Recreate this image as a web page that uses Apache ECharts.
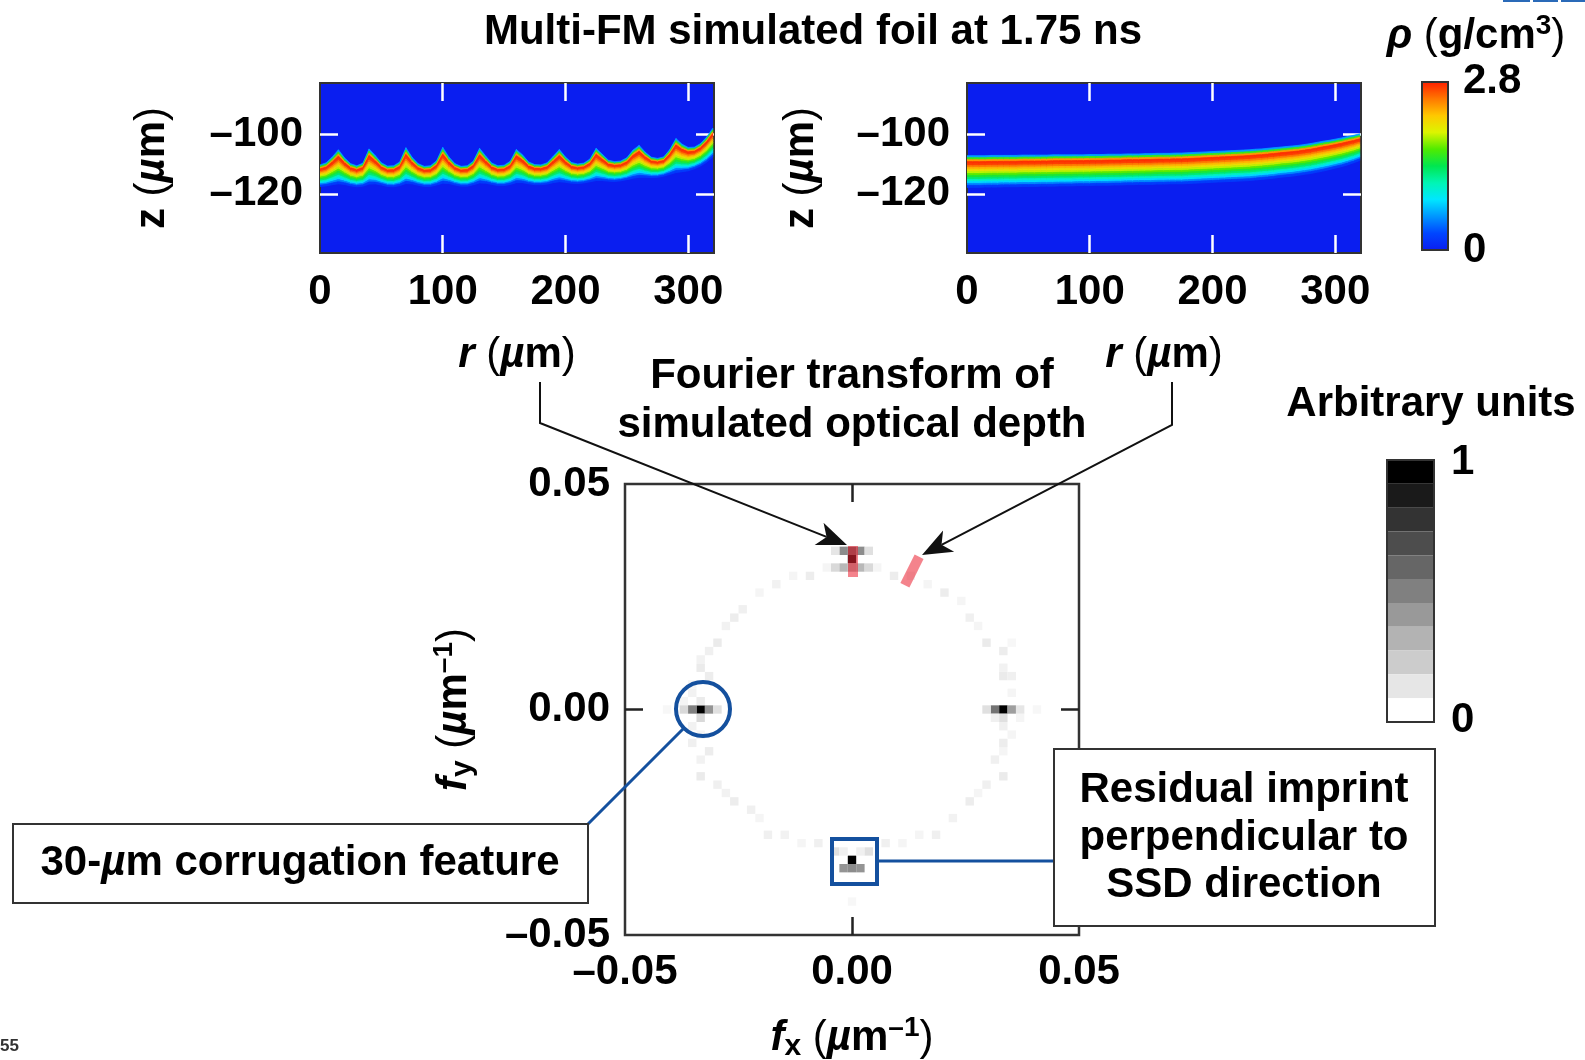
<!DOCTYPE html>
<html>
<head>
<meta charset="utf-8">
<title>Multi-FM simulated foil at 1.75 ns</title>
<script src="https://cdn.jsdelivr.net/npm/echarts@6/dist/echarts.min.js"></script>
<style>
  html, body { margin: 0; padding: 0; background: #fff; }
  #chart { width: 1585px; height: 1060px; }
</style>
</head>
<body>
<div id="chart"></div>
<script>
const FONT = "'Liberation Sans', Arial, Helvetica, sans-serif"

const rSamples = [
  0, 5, 10, 15, 20, 25, 30, 35, 40, 45, 50, 55, 60, 65, 70, 75, 80, 85, 90, 95,
  100, 105, 110, 115, 120, 125, 130, 135, 140, 145, 150, 155, 160, 165, 170, 175, 180, 185, 190, 195,
  200, 205, 210, 215, 220, 225, 230, 235, 240, 245, 250, 255, 260, 265, 270, 275, 280, 285, 290, 295,
  300, 305, 310, 315, 320
]

// left panel (corrugated foil): top and bottom edge of the dense layer, z in µm
const corrugatedTop = [
  -110.2, -109.5, -107.5, -105.1, -107.8, -109.8, -110.5, -109.6, -104.8, -107.0,
  -109.5, -110.6, -110.5, -109.2, -104.4, -107.6, -109.8, -110.7, -110.5, -108.8,
  -104.3, -107.5, -109.8, -110.7, -110.5, -108.9, -104.6, -107.2, -109.6, -110.5,
  -110.3, -109.0, -105.0, -106.8, -109.2, -110.1, -110.2, -109.5, -107.3, -105.0,
  -107.5, -109.4, -109.9, -109.6, -108.2, -104.6, -106.6, -108.6, -109.1, -108.9,
  -107.8, -105.2, -103.6, -105.9, -107.6, -108.0, -107.5, -105.0, -101.3, -103.2,
  -104.3, -104.2, -103.0, -100.8, -97.8
]
const corrugatedBottom = [
  -117.5, -117.3, -116.9, -116.6, -116.8, -117.3, -117.6, -117.4, -116.7, -116.6,
  -117.0, -117.5, -117.6, -117.2, -116.5, -116.6, -117.1, -117.5, -117.5, -117.0,
  -116.4, -116.5, -117.0, -117.4, -117.4, -116.9, -116.3, -116.4, -116.8, -117.2,
  -117.2, -116.8, -116.2, -116.2, -116.6, -116.9, -116.9, -116.7, -116.2, -115.9,
  -116.1, -116.4, -116.5, -116.3, -115.9, -115.5, -115.5, -115.7, -115.8, -115.6,
  -115.2, -114.7, -114.4, -114.4, -114.5, -114.4, -114.0, -113.4, -112.8, -112.5,
  -112.2, -111.5, -110.6, -109.3, -107.5
]

// right panel (smooth foil)
const smoothTop = [
  -107.1, -107.1, -107.1, -107.1, -107.0, -107.0, -107.0, -107.0, -107.0, -106.9,
  -106.9, -106.9, -106.9, -106.9, -106.8, -106.8, -106.8, -106.8, -106.8, -106.8,
  -106.7, -106.7, -106.7, -106.6, -106.6, -106.6, -106.5, -106.5, -106.5, -106.4,
  -106.4, -106.3, -106.3, -106.3, -106.2, -106.2, -106.1, -106.0, -105.9, -105.8,
  -105.7, -105.6, -105.5, -105.4, -105.3, -105.2, -105.1, -104.9, -104.8, -104.6,
  -104.4, -104.2, -104.0, -103.8, -103.6, -103.3, -103.0, -102.6, -102.2, -101.9,
  -101.5, -101.1, -100.6, -100.2, -99.7
]
const smoothBottom = [
  -117.8, -117.8, -117.8, -117.7, -117.7, -117.7, -117.6, -117.6, -117.6, -117.5,
  -117.5, -117.5, -117.4, -117.4, -117.4, -117.3, -117.3, -117.3, -117.2, -117.2,
  -117.2, -117.1, -117.1, -117.1, -117.0, -117.0, -116.9, -116.9, -116.8, -116.8,
  -116.8, -116.7, -116.7, -116.6, -116.6, -116.6, -116.5, -116.4, -116.3, -116.2,
  -116.1, -116.0, -115.9, -115.8, -115.7, -115.6, -115.5, -115.3, -115.1, -114.9,
  -114.7, -114.4, -114.2, -114.0, -113.7, -113.4, -113.1, -112.7, -112.3, -111.8,
  -111.3, -110.8, -110.2, -109.5, -108.7
]

// density (g/cm3) through the layer, from its top edge down to its bottom edge
const rhoProfile = [0.6, 1.6, 2.4, 2.75, 2.7, 2.5, 2.3, 2.1, 1.9, 1.7, 1.5, 1.3, 1.05, 0.8, 0.5, 0.2]
const rhoMax = 2.8
const jetColors = ['#0a1ef0', '#0046ff', '#0096ff', '#00e6ff', '#00f5b4', '#00e650',
  '#50eb00', '#dcf500', '#ffc800', '#ff7800', '#ff2000']

// Fourier transform cells: [fx index, fy index, amplitude], one index = freqStep µm^-1
const freqStep = 1 / 540
const fourierPeaks = [
  [-18, 0, 1.0], [-19, 0, 0.5], [-17, 0, 0.42], [-20, 0, 0.15], [-16, 0, 0.12], [-18, 1, 0.08], [-18, -1, 0.15],
  [18, 0, 1.0], [17, 0, 0.55], [19, 0, 0.38], [16, 0, 0.12], [20, 0, 0.1], [18, -1, 0.12], [17, -1, 0.06],
  [0, 18, 0.95], [-1, 19, 0.45], [0, 19, 0.6], [1, 19, 0.45], [-2, 19, 0.1], [2, 19, 0.12],
  [-2, 17, 0.15], [-1, 17, 0.28], [0, 17, 0.3], [1, 17, 0.28], [2, 17, 0.15],
  [0, -18, 1.0], [-1, -19, 0.42], [0, -19, 0.45], [1, -19, 0.42],
  [-2, -17, 0.12], [-1, -17, 0.06], [1, -17, 0.06], [2, -17, 0.12]
]
const fourierRing = [
  [-3, 17, 0.04], [-5, 16, 0.07], [-7, 16, 0.04], [-9, 15, 0.05], [-11, 14, 0.04], [-13, 12, 0.06], [-14, 11, 0.07], [-15, 10, 0.05],
  [3, 17, 0.04], [5, 16, 0.07], [7, 16, 0.05], [9, 15, 0.04], [11, 14, 0.07], [13, 13, 0.04], [14, 11, 0.06], [15, 10, 0.04],
  [-16, 8, 0.08], [-17, 7, 0.06], [-18, 6, 0.05], [-18, 5, 0.08], [-17, 4, 0.07], [-19, 3, 0.04], [-19, 2, 0.05], [-20, 1, 0.04],
  [-22, 0, 0.03], [-19, -2, 0.05], [-18, -3, 0.04], [-19, -4, 0.06], [-17, -5, 0.07], [-18, -6, 0.05], [-18, -8, 0.08], [-16, -9, 0.06],
  [-15, -10, 0.05], [-14, -11, 0.07], [-12, -12, 0.06], [-11, -13, 0.04], [-10, -15, 0.06], [-8, -15, 0.05], [-6, -16, 0.04], [-4, -16, 0.06],
  [4, -16, 0.06], [6, -16, 0.04], [8, -15, 0.04], [10, -15, 0.06], [12, -13, 0.05], [14, -11, 0.07], [15, -10, 0.04], [0, -23, 0.03],
  [16, -9, 0.06], [18, -8, 0.08], [17, -6, 0.06], [18, -5, 0.04], [18, -4, 0.07], [19, -3, 0.04], [18, -2, 0.06], [20, -1, 0.04],
  [22, 0, 0.03], [19, 2, 0.04], [18, 4, 0.08], [19, 4, 0.06], [18, 5, 0.05], [18, 7, 0.07], [16, 8, 0.08], [19, 8, 0.03]
]

// "Arbitrary units" scale, white (0) to black (1)
const grayLevels = ['#ffffff', '#e6e6e6', '#cccccc', '#b3b3b3', '#999999', '#808080',
  '#666666', '#4d4d4d', '#333333', '#1a1a1a', '#000000']

const txt = { fontFamily: FONT, fontSize: 42, fontWeight: 'bold', color: '#000', fill: '#000', lineHeight: 48, verticalAlign: 'middle' }
const rich = {
  b: { ...txt },
  i: { ...txt, fontStyle: 'italic' },
  p: { ...txt, fontWeight: 'normal' },
  sup: { ...txt, fontSize: 28, lineHeight: 28, verticalAlign: 'top' },
  sub: { ...txt, fontSize: 30, lineHeight: 30, verticalAlign: 'bottom' }
}
const labelStyle = { fontFamily: FONT, fontSize: 42, fontWeight: 'bold', color: '#000' }

function dash(v, digits) {
  const s = digits ? Math.abs(v).toFixed(digits) : String(Math.abs(v))
  return v < -1e-9 ? '\u2013' + s : s
}

function axis(o) {
  return {
    type: 'value', gridIndex: o.grid, position: o.pos, min: o.min, max: o.max,
    axisLine: { show: false, onZero: false }, splitLine: { show: false },
    axisTick: { show: true, inside: true, length: 18, customValues: o.ticks, lineStyle: { color: o.tickColor, width: 2.5 } },
    axisLabel: o.labels
      ? { show: true, customValues: o.labels, margin: o.margin, formatter: o.fmt, ...labelStyle }
      : { show: false },
    name: o.name || '', nameLocation: 'middle', nameGap: o.nameGap || 0,
    nameTextStyle: { ...labelStyle, rich }
  }
}

// one quad per (r interval, layer slice) between the read top and bottom edges
function bandData(top, bottom) {
  const out = []
  for (let i = 0; i < rSamples.length - 1; i++) {
    for (let k = 0; k < rhoProfile.length; k++) {
      const f = (k + 0.5) / rhoProfile.length
      out.push([(rSamples[i] + rSamples[i + 1]) / 2, top[i] - f * (top[i] - bottom[i]), rhoProfile[k], i, k])
    }
  }
  return out
}

function bandRenderer(top, bottom) {
  const n = rhoProfile.length
  const zAt = (j, f) => top[j] - f * (top[j] - bottom[j])
  return function (params, api) {
    const i = api.value(3)
    const k = api.value(4)
    const f0 = k / n
    const f1 = (k + 1) / n
    const color = api.visual('color')
    return {
      type: 'polygon',
      shape: {
        points: [
          api.coord([rSamples[i], zAt(i, f0)]),
          api.coord([rSamples[i + 1], zAt(i + 1, f0)]),
          api.coord([rSamples[i + 1], zAt(i + 1, f1)]),
          api.coord([rSamples[i], zAt(i, f1)])
        ]
      },
      style: { fill: color, stroke: color, lineWidth: 0.8 }
    }
  }
}

function cellRenderer(params, api) {
  const c = api.coord([api.value(0), api.value(1)])
  const s = api.size([freqStep, freqStep])
  return {
    type: 'rect',
    shape: { x: c[0] - s[0] / 2, y: c[1] - s[1] / 2, width: s[0], height: s[1] },
    style: { fill: api.visual('color') }
  }
}

const fourierData = fourierRing.concat(fourierPeaks).map(([ix, iy, v]) => [ix * freqStep, iy * freqStep, v])

const grayPieces = grayLevels.map((color, i) => ({ min: i / grayLevels.length, max: (i + 1) / grayLevels.length, color }))

function text(x, y, content, align = 'center', extra = {}) {
  return { type: 'text', z: 60, x, y, style: { text: content, rich, align, verticalAlign: 'middle', ...extra } }
}

function arrow(corner, bend, tip) {
  const dx = tip[0] - bend[0]
  const dy = tip[1] - bend[1]
  const len = Math.hypot(dx, dy)
  const ux = dx / len
  const uy = dy / len
  const L = 30, W = 12, N = 8
  const bx = tip[0] - L * ux
  const by = tip[1] - L * uy
  const notch = [tip[0] - (L - N) * ux, tip[1] - (L - N) * uy]
  return [
    { type: 'polyline', z: 60, shape: { points: [corner, bend, notch] }, style: { stroke: '#111', lineWidth: 2, fill: 'none' } },
    { type: 'polygon', z: 61, shape: { points: [tip, [bx - W * uy, by + W * ux], notch, [bx + W * uy, by - W * ux]] }, style: { fill: '#111' } }
  ]
}

const BLUE = '#14509e'
const RED = 'rgba(235, 30, 45, 0.55)'

const chart = echarts.init(document.getElementById('chart'))

const option = {
  animation: false,
  backgroundColor: '#fff',
  title: {
    text: 'Multi-FM simulated foil at 1.75 ns',
    left: 813, top: 11, padding: 0, textAlign: 'center',
    textStyle: { fontFamily: FONT, fontSize: 42, fontWeight: 'bold', color: '#000' }
  },
  grid: [
    { left: 320, top: 83, width: 394, height: 170, show: true, backgroundColor: jetColors[0], borderColor: '#333', borderWidth: 2, outerBoundsMode: 'none' },
    { left: 967, top: 83, width: 394, height: 170, show: true, backgroundColor: jetColors[0], borderColor: '#333', borderWidth: 2, outerBoundsMode: 'none' },
    { left: 625, top: 484, width: 454, height: 451, show: true, backgroundColor: '#fff', borderColor: '#333', borderWidth: 2.5, outerBoundsMode: 'none' }
  ],
  xAxis: [
    axis({ grid: 0, pos: 'bottom', min: 0, max: 321, ticks: [100, 200, 300], tickColor: '#fff', labels: [0, 100, 200, 300], margin: 18,
      name: '{i|r}{p| (}{i|µ}{b|m}{p|)}', nameGap: 78 }),
    axis({ grid: 0, pos: 'top', min: 0, max: 321, ticks: [100, 200, 300], tickColor: '#fff' }),
    axis({ grid: 1, pos: 'bottom', min: 0, max: 321, ticks: [100, 200, 300], tickColor: '#fff', labels: [0, 100, 200, 300], margin: 18,
      name: '{i|r}{p| (}{i|µ}{b|m}{p|)}', nameGap: 78 }),
    axis({ grid: 1, pos: 'top', min: 0, max: 321, ticks: [100, 200, 300], tickColor: '#fff' }),
    axis({ grid: 2, pos: 'bottom', min: -0.05, max: 0.05, ticks: [0], tickColor: '#222', labels: [-0.05, 0, 0.05], margin: 16,
      fmt: (v) => dash(v, 2), name: '{i|f}{sub|x}{p| (}{i|µ}{b|m}{sup|\u20131}{p|)}', nameGap: 79 }),
    axis({ grid: 2, pos: 'top', min: -0.05, max: 0.05, ticks: [0], tickColor: '#222' })
  ],
  yAxis: [
    axis({ grid: 0, pos: 'left', min: -140, max: -82.5, ticks: [-100, -120], tickColor: '#fff', labels: [-100, -120], margin: 17,
      fmt: (v) => dash(v), name: '{b|z}{p| (}{i|µ}{b|m}{p|)}', nameGap: 144 }),
    axis({ grid: 0, pos: 'right', min: -140, max: -82.5, ticks: [-100, -120], tickColor: '#fff' }),
    axis({ grid: 1, pos: 'left', min: -140, max: -82.5, ticks: [-100, -120], tickColor: '#fff', labels: [-100, -120], margin: 17,
      fmt: (v) => dash(v), name: '{b|z}{p| (}{i|µ}{b|m}{p|)}', nameGap: 142 }),
    axis({ grid: 1, pos: 'right', min: -140, max: -82.5, ticks: [-100, -120], tickColor: '#fff' }),
    axis({ grid: 2, pos: 'left', min: -0.05, max: 0.05, ticks: [0], tickColor: '#222', labels: [-0.05, 0, 0.05], margin: 15,
      fmt: (v) => dash(v, 2), name: '{i|f}{sub|y}{p| (}{i|µ}{b|m}{sup|\u20131}{p|)}', nameGap: 147 }),
    axis({ grid: 2, pos: 'right', min: -0.05, max: 0.05, ticks: [0], tickColor: '#222' })
  ],
  visualMap: [
    {
      type: 'continuous', seriesIndex: [0, 1], dimension: 2, min: 0, max: rhoMax,
      inRange: { color: jetColors }, show: true, calculable: false, hoverLink: false,
      left: 1422, top: 82, itemWidth: 26, itemHeight: 168, padding: 0, text: null
    },
    {
      type: 'continuous', seriesIndex: [2], dimension: 2, min: 0, max: 1,
      inRange: { color: ['#ffffff', '#000000'] }, show: false
    },
    {
      type: 'piecewise', seriesIndex: [3], pieces: grayPieces, show: true, selectedMode: false,
      left: 1387, top: 460, itemWidth: 47, itemHeight: 262 / grayLevels.length, itemGap: 0,
      itemSymbol: 'rect', showLabel: false, padding: 0
    }
  ],
  series: [
    {
      type: 'custom', name: 'corrugated foil', xAxisIndex: 0, yAxisIndex: 0, silent: true, clip: true,
      encode: { x: 0, y: 1 }, data: bandData(corrugatedTop, corrugatedBottom),
      renderItem: bandRenderer(corrugatedTop, corrugatedBottom)
    },
    {
      type: 'custom', name: 'smooth foil', xAxisIndex: 2, yAxisIndex: 2, silent: true, clip: true,
      encode: { x: 0, y: 1 }, data: bandData(smoothTop, smoothBottom),
      renderItem: bandRenderer(smoothTop, smoothBottom)
    },
    {
      type: 'custom', name: 'optical depth FT', xAxisIndex: 4, yAxisIndex: 4, silent: true,
      encode: { x: 0, y: 1 }, data: fourierData, renderItem: cellRenderer
    },
    { type: 'scatter', name: 'arbitrary units', xAxisIndex: 4, yAxisIndex: 4, data: [], silent: true }
  ],
  graphic: [
    // density colour bar
    { type: 'rect', z: 60, shape: { x: 1422, y: 82, width: 26, height: 168 }, style: { fill: 'none', stroke: '#333', lineWidth: 2 } },
    text(1476, 36, '{i|ρ}{p| (}{b|g/cm}{sup|3}{p|)}'),
    text(1463, 81, '{b|2.8}', 'left'),
    text(1463, 250, '{b|0}', 'left'),
    // arbitrary-units bar
    text(1431, 404, '{b|Arbitrary units}'),
    { type: 'rect', z: 60, shape: { x: 1387, y: 460, width: 47, height: 262 }, style: { fill: 'none', stroke: '#333', lineWidth: 2 } },
    text(1451, 462, '{b|1}', 'left'),
    text(1451, 720, '{b|0}', 'left'),
    // Fourier caption and arrows
    text(852, 376, '{b|Fourier transform of}'),
    text(852, 425, '{b|simulated optical depth}'),
    ...arrow([540, 382], [540, 423], [847, 545]),
    ...arrow([1172, 382], [1172, 425], [922, 555]),
    // red highlights of the lineout directions
    { type: 'rect', z: 55, shape: { x: 848, y: 546, width: 10, height: 31 }, style: { fill: RED } },
    { type: 'rect', z: 55, x: 912, y: 571, rotation: -0.46, shape: { x: -5, y: -16, width: 10, height: 32 }, style: { fill: RED } },
    // 30-µm feature callout
    { type: 'circle', z: 60, shape: { cx: 703, cy: 709, r: 27 }, style: { fill: 'none', stroke: BLUE, lineWidth: 4 } },
    { type: 'line', z: 60, shape: { x1: 684, y1: 728, x2: 588, y2: 824 }, style: { stroke: BLUE, lineWidth: 3 } },
    { type: 'rect', z: 60, shape: { x: 13, y: 824, width: 575, height: 79 }, style: { fill: '#fff', stroke: '#333', lineWidth: 2 } },
    text(300, 863, '{b|30-}{i|µ}{b|m corrugation feature}'),
    // residual imprint callout
    { type: 'rect', z: 60, shape: { x: 832, y: 839, width: 45, height: 45 }, style: { fill: 'none', stroke: BLUE, lineWidth: 4 } },
    { type: 'line', z: 60, shape: { x1: 879, y1: 861, x2: 1054, y2: 861 }, style: { stroke: BLUE, lineWidth: 3 } },
    { type: 'rect', z: 60, shape: { x: 1054, y: 749, width: 381, height: 177 }, style: { fill: '#fff', stroke: '#333', lineWidth: 2 } },
    text(1244, 790, '{b|Residual imprint}'),
    text(1244, 838, '{b|perpendicular to}'),
    text(1244, 885, '{b|SSD direction}'),
    // page furniture
    { type: 'text', z: 60, x: 0, y: 1046, style: { text: '55', fontFamily: FONT, fontSize: 17, fontWeight: 'bold', fill: '#333', align: 'left', verticalAlign: 'middle' } },
    { type: 'rect', z: 60, shape: { x: 1503, y: 0, width: 27, height: 2 }, style: { fill: '#2a6ab8' } },
    { type: 'rect', z: 60, shape: { x: 1533, y: 0, width: 25, height: 2 }, style: { fill: '#2a6ab8' } },
    { type: 'rect', z: 60, shape: { x: 1561, y: 0, width: 24, height: 2 }, style: { fill: '#2a6ab8' } }
  ]
}

chart.setOption(option)
</script>
</body>
</html>
